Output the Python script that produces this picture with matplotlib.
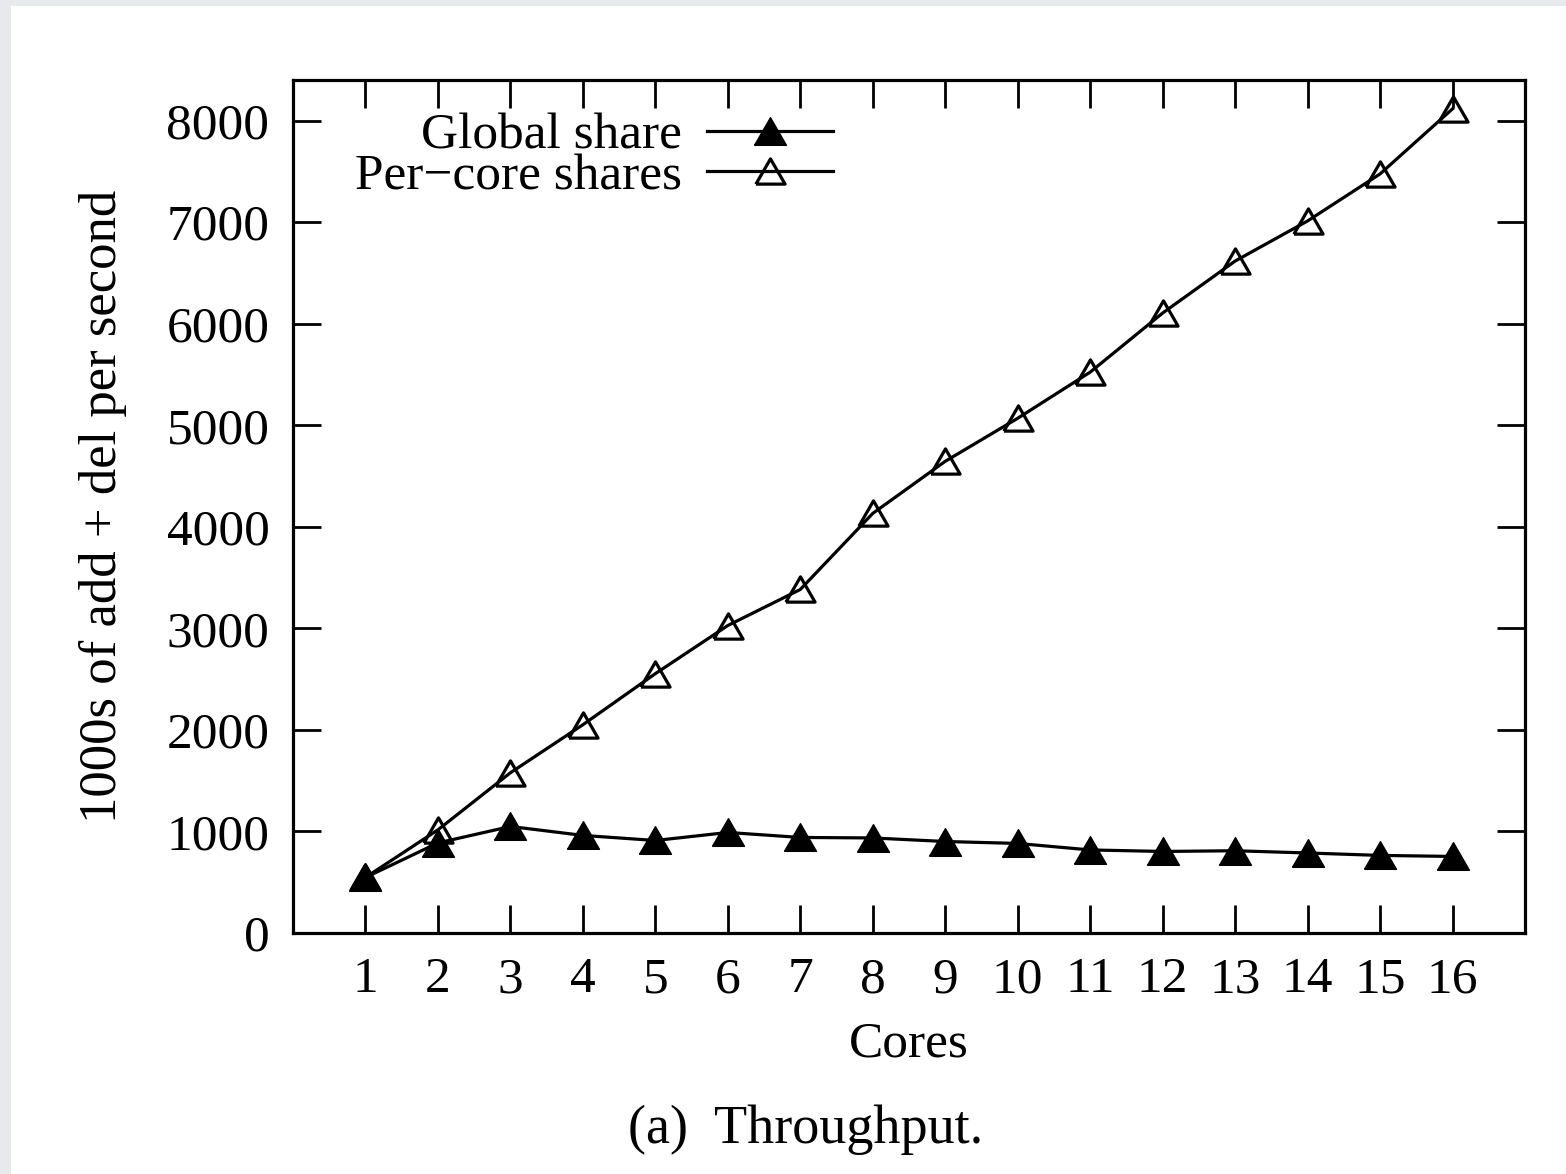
import matplotlib
matplotlib.use("Agg")
import matplotlib.pyplot as plt
from matplotlib.patches import Rectangle

cores = [1, 2, 3, 4, 5, 6, 7, 8, 9, 10, 11, 12, 13, 14, 15, 16]
global_share = [547, 887, 1049, 961, 911, 990, 941, 936, 901, 882, 818, 803, 810, 788, 764, 754]
per_core_shares = [547, 1016, 1578, 2051, 2554, 3028, 3383, 4132, 4645, 5069, 5523, 6105, 6617, 7012, 7475, 8116]
y_ticks = [0, 1000, 2000, 3000, 4000, 5000, 6000, 7000, 8000]

plt.rcParams["font.family"] = ["Liberation Serif", "DejaVu Serif"]
FS = 37

fig = plt.figure(figsize=(15.66, 11.74), dpi=100)
fig.patch.set_facecolor("white")
# light grey page margin along the top and left edges
fig.patches.append(Rectangle((0, 1 - 6 / 1174), 1, 6 / 1174, transform=fig.transFigure,
                             facecolor="#e8e9ed", edgecolor="none", zorder=0))
fig.patches.append(Rectangle((0, 0), 11 / 1566, 1, transform=fig.transFigure,
                             facecolor="#e8e9ed", edgecolor="none", zorder=0))

ax = fig.add_axes([293 / 1566, 1 - 933 / 1174, (1525 - 293) / 1566, (933 - 80) / 1174])

# slightly flattened triangle, closed so the open version draws all three sides
tri = [(-1, -0.866), (1, -0.866), (0, 0.866), (-1, -0.866)]
ax.plot(cores, global_share, color="black", lw=2.3, marker=tri, markersize=23,
        markerfacecolor="black", markeredgecolor="black", markeredgewidth=1.0,
        label="Global share", zorder=3)
ax.plot(cores, per_core_shares, color="black", lw=2.3, marker=tri, markersize=21,
        markerfacecolor="none", markeredgecolor="black", markeredgewidth=2.3,
        label="Per\u2212core shares", zorder=4)

ax.set_xlim(0, 17)
ax.set_ylim(0, 8400)
ax.set_xticks(cores)
ax.set_yticks(y_ticks)
ax.tick_params(axis="both", which="major", direction="in", length=20, width=2,
               labelsize=FS, top=True, right=True)
ax.tick_params(axis="x", pad=17)
ax.tick_params(axis="y", pad=17)
for sp in ax.spines.values():
    sp.set_linewidth(2.3)

ax.set_xlabel("Cores", fontsize=FS, labelpad=13)
ax.set_ylabel("1000s of add + del per second", fontsize=38)
ax.yaxis.label.set_va("center")
ax.yaxis.set_label_coords((103 - 293) / 1232, 0.5)

leg = ax.legend(loc="upper right", bbox_to_anchor=((833 - 293) / 1232, 1 - 33 / 853),
                frameon=False, markerfirst=False, fontsize=FS, handlelength=2.45,
                handletextpad=0.49, labelspacing=-0.13, borderpad=0, borderaxespad=0)

fig.text(806 / 1566, 1 - 1130 / 1174, "(a)  Throughput.", fontsize=39,
         ha="center", va="center")

fig.savefig("out.png", dpi=100, facecolor=fig.get_facecolor())
